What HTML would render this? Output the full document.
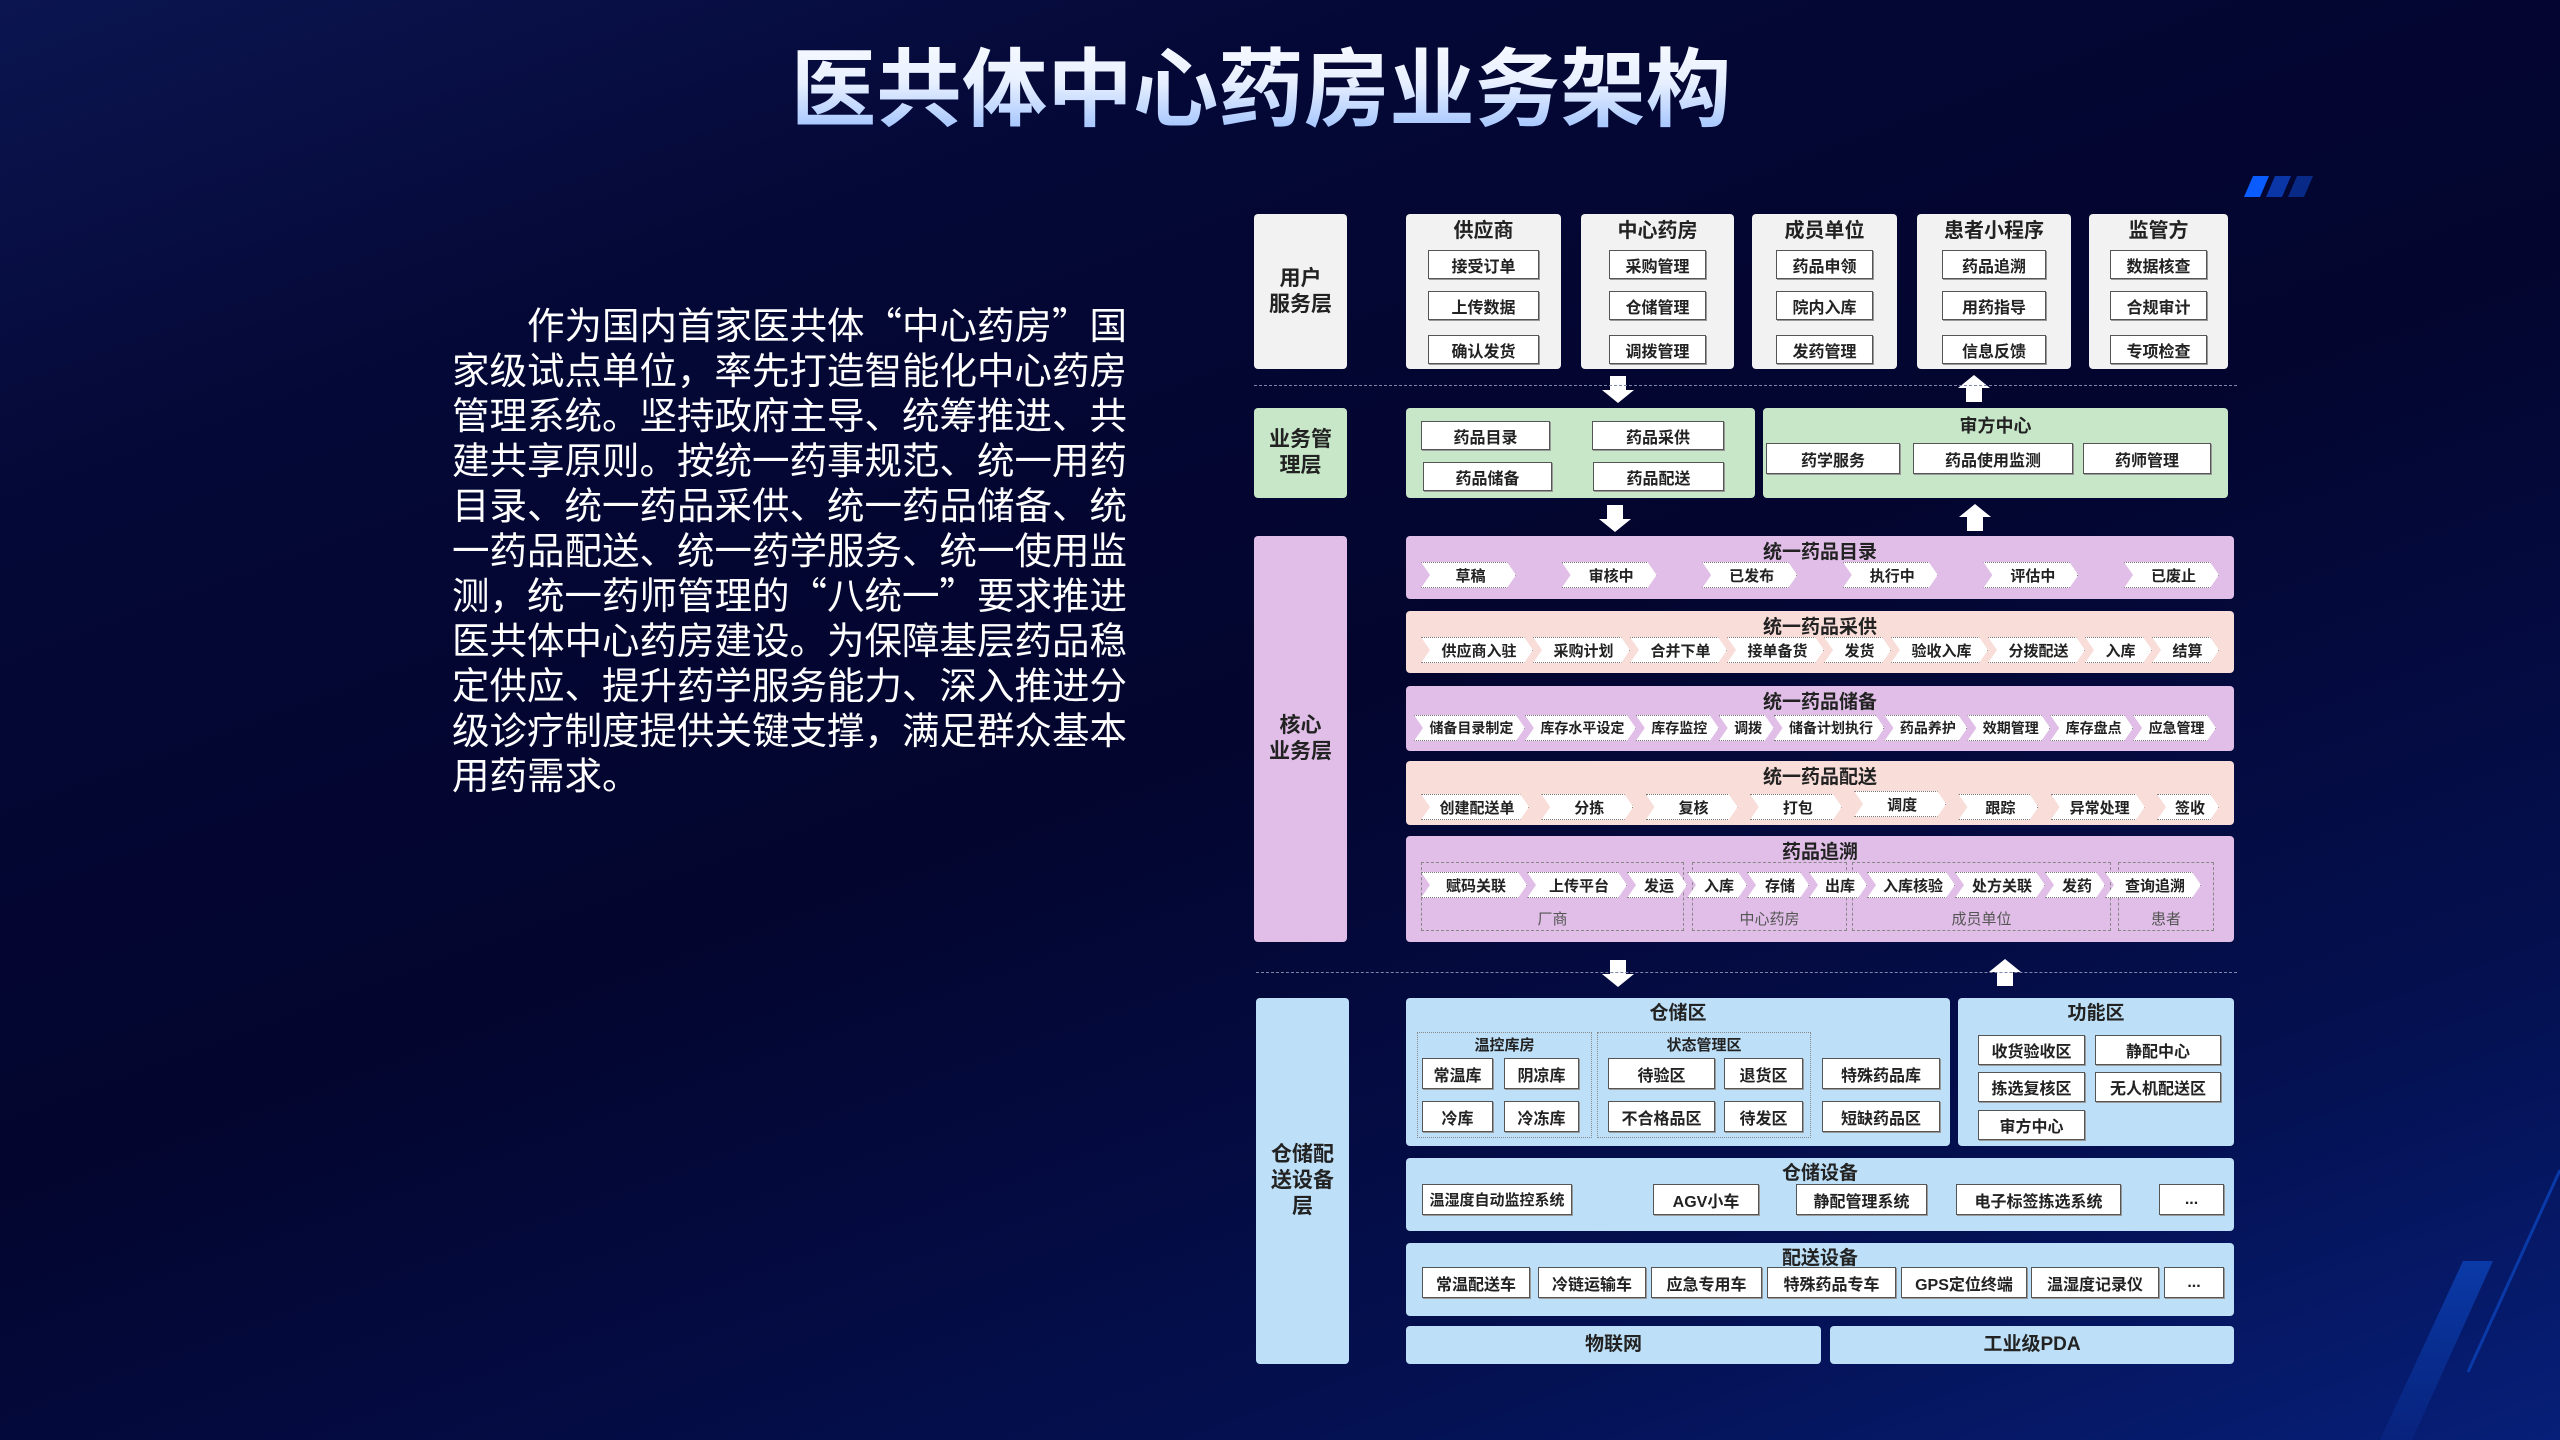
<!DOCTYPE html>
<html><head><meta charset="utf-8">
<style>
*{margin:0;padding:0;box-sizing:border-box}
body{width:2560px;height:1440px;overflow:hidden;position:relative;font-family:"Liberation Sans","Noto Sans CJK SC",sans-serif;
background:linear-gradient(160deg,#0b1550 0%,#040836 22%,#03052e 50%,#041050 80%,#071f78 100%);}
.a{position:absolute}
.t{position:absolute;left:0;width:2522px;top:20px;text-align:center;font-size:85.5px;font-weight:bold;letter-spacing:0;white-space:nowrap;
background:linear-gradient(180deg,#ffffff 0%,#e8f0ff 50%,#8fb8ff 100%);-webkit-background-clip:text;background-clip:text;color:transparent;font-family:"Noto Sans CJK SC",sans-serif}
.p{position:absolute;left:452px;top:300px;width:720px;font-size:37.5px;line-height:45px;color:#fff;font-family:"Noto Sans CJK SC",sans-serif;white-space:nowrap}
.bx{position:absolute;border-radius:4px}
.lab{display:flex;align-items:center;justify-content:center;text-align:center;font-weight:bold;font-size:21px;color:#222;line-height:26px}
.w{position:absolute;background:#fff;border:1.5px solid #555;box-shadow:1px 1px 0 #999;display:flex;align-items:center;justify-content:center;font-size:16px;font-weight:bold;color:#222;white-space:nowrap;overflow:hidden}
.ttl{position:absolute;left:0;right:0;text-align:center;font-weight:bold;font-size:20px;color:#222}
.gr{background:#f2f2f2}.gn{background:#c8e7c9}.pu{background:#e0bee7}.pk{background:#f9ddd9}.bl{background:#bddff7}
.row{position:absolute;display:flex}
.c{height:26px;background:#fff;display:flex;align-items:center;justify-content:center;font-size:15px;font-weight:bold;color:#222;white-space:nowrap;overflow:hidden;min-width:0;
clip-path:polygon(0 0,calc(100% - 9px) 0,100% 50%,calc(100% - 9px) 100%,0 100%,9px 50%);padding:0 8px 0 12px;flex:1 1 auto;border:1px dotted #777}
.dash{position:absolute;height:0;border-top:1.5px dashed #7c86a8}
.grp{position:absolute;border:1.5px dashed #888}
.gl{position:absolute;font-size:15px;color:#555;text-align:center}
</style></head><body>

<div class="t">医共体中心药房业务架构</div>
<div class="p"><span style="padding-left:75px"></span>作为国内首家医共体“中心药房”国<br>家级试点单位，率先打造智能化中心药房<br>管理系统。坚持政府主导、统筹推进、共<br>建共享原则。按统一药事规范、统一用药<br>目录、统一药品采供、统一药品储备、统<br>一药品配送、统一药学服务、统一使用监<br>测，统一药师管理的“八统一”要求推进<br>医共体中心药房建设。为保障基层药品稳<br>定供应、提升药学服务能力、深入推进分<br>级诊疗制度提供关键支撑，满足群众基本<br>用药需求。</div>

<svg class="a" style="left:0;top:0" width="2560" height="1440">
<polygon points="2253,176 2269,176 2260,197 2244,197" fill="#0a5cff"/>
<polygon points="2275,176 2291,176 2282,197 2266,197" fill="#0a36a8"/>
<polygon points="2297,176 2313,176 2304,197 2288,197" fill="#082a86"/>
<defs><linearGradient id="sg" x1="0" y1="0" x2="0" y2="1"><stop offset="0" stop-color="#0a3aa8"/><stop offset="1" stop-color="#0a3aa8" stop-opacity="0.2"/></linearGradient></defs>
<polygon points="2463,1261 2493,1261 2412,1440 2380,1440" fill="url(#sg)"/>
<line x1="2560" y1="1170" x2="2468" y2="1372" stroke="#0a3aa8" stroke-width="3"/>
<g fill="#fff">
<polygon points="1610,376 1626,376 1626,390 1634,390 1618,403 1602,390 1610,390"/>
<polygon points="1966,402 1982,402 1982,388 1990,388 1974,375 1958,388 1966,388"/>
<polygon points="1607,505 1623,505 1623,519 1631,519 1615,532 1599,519 1607,519"/>
<polygon points="1967,531 1983,531 1983,517 1991,517 1975,504 1959,517 1967,517"/>
<polygon points="1610,960 1626,960 1626,974 1634,974 1618,987 1602,974 1610,974"/>
<polygon points="1997,986 2013,986 2013,972 2021,972 2005,959 1989,972 1997,972"/>
</g>
</svg>

<div class="dash" style="left:1254px;top:385px;width:983px"></div>
<div class="dash" style="left:1256px;top:972px;width:981px"></div>

<div class="bx gr lab" style="left:1254px;top:214px;width:93px;height:155px">用户<br>服务层</div>
<div class="bx gr" style="left:1406px;top:214px;width:155px;height:155px"><div class="ttl" style="top:0">供应商</div>
<div class="w" style="left:22px;top:36px;width:111px;height:29px">接受订单</div><div class="w" style="left:22px;top:77px;width:111px;height:29px">上传数据</div><div class="w" style="left:22px;top:121px;width:111px;height:29px">确认发货</div></div>
<div class="bx gr" style="left:1581px;top:214px;width:153px;height:155px"><div class="ttl" style="top:0">中心药房</div>
<div class="w" style="left:28px;top:36px;width:97px;height:29px">采购管理</div><div class="w" style="left:28px;top:77px;width:97px;height:29px">仓储管理</div><div class="w" style="left:28px;top:121px;width:97px;height:29px">调拨管理</div></div>
<div class="bx gr" style="left:1752px;top:214px;width:145px;height:155px"><div class="ttl" style="top:0">成员单位</div>
<div class="w" style="left:24px;top:36px;width:97px;height:29px">药品申领</div><div class="w" style="left:24px;top:77px;width:97px;height:29px">院内入库</div><div class="w" style="left:24px;top:121px;width:97px;height:29px">发药管理</div></div>
<div class="bx gr" style="left:1917px;top:214px;width:154px;height:155px"><div class="ttl" style="top:0">患者小程序</div>
<div class="w" style="left:25px;top:36px;width:104px;height:29px">药品追溯</div><div class="w" style="left:25px;top:77px;width:104px;height:29px">用药指导</div><div class="w" style="left:25px;top:121px;width:104px;height:29px">信息反馈</div></div>
<div class="bx gr" style="left:2089px;top:214px;width:139px;height:155px"><div class="ttl" style="top:0">监管方</div>
<div class="w" style="left:21px;top:36px;width:97px;height:29px">数据核查</div><div class="w" style="left:21px;top:77px;width:97px;height:29px">合规审计</div><div class="w" style="left:21px;top:121px;width:97px;height:29px">专项检查</div></div>

<div class="bx gn lab" style="left:1254px;top:408px;width:93px;height:90px">业务管<br>理层</div>
<div class="bx gn" style="left:1406px;top:408px;width:349px;height:90px">
<div class="w" style="left:15px;top:13px;width:129px;height:29px">药品目录</div><div class="w" style="left:17px;top:54px;width:129px;height:29px">药品储备</div>
<div class="w" style="left:186px;top:13px;width:132px;height:29px">药品采供</div><div class="w" style="left:187px;top:54px;width:131px;height:29px">药品配送</div></div>
<div class="bx gn" style="left:1763px;top:408px;width:465px;height:90px"><div class="ttl" style="top:4px;font-size:18px">审方中心</div>
<div class="w" style="left:3px;top:35px;width:134px;height:31px">药学服务</div><div class="w" style="left:150px;top:35px;width:160px;height:31px">药品使用监测</div><div class="w" style="left:320px;top:35px;width:128px;height:31px">药师管理</div></div>

<div class="bx pu lab" style="left:1254px;top:536px;width:93px;height:406px">核心<br>业务层</div>
<div class="bx pu" style="left:1406px;top:536px;width:828px;height:63px"><div class="ttl" style="top:1px;font-size:19px">统一药品目录</div>
<div class="row" style="left:15px;right:15px;top:26px;justify-content:space-between"><div class="c" style="flex:0 0 95px">草稿</div><div class="c" style="flex:0 0 95px">审核中</div><div class="c" style="flex:0 0 95px">已发布</div><div class="c" style="flex:0 0 95px">执行中</div><div class="c" style="flex:0 0 95px">评估中</div><div class="c" style="flex:0 0 95px">已废止</div></div></div>
<div class="bx pk" style="left:1406px;top:611px;width:828px;height:62px"><div class="ttl" style="top:1px;font-size:19px">统一药品采供</div>
<div class="row" style="left:15px;right:15px;top:26px;gap:0"><div class="c">供应商入驻</div><div class="c">采购计划</div><div class="c">合并下单</div><div class="c">接单备货</div><div class="c">发货</div><div class="c">验收入库</div><div class="c">分拨配送</div><div class="c">入库</div><div class="c">结算</div></div></div>
<div class="bx pu" style="left:1406px;top:686px;width:828px;height:65px"><div class="ttl" style="top:1px;font-size:19px">统一药品储备</div>
<div class="row" style="left:8px;right:18px;top:29px"><div class="c" style="font-size:14px">储备目录制定</div><div class="c" style="font-size:14px">库存水平设定</div><div class="c" style="font-size:14px">库存监控</div><div class="c" style="font-size:14px">调拨</div><div class="c" style="font-size:14px">储备计划执行</div><div class="c" style="font-size:14px">药品养护</div><div class="c" style="font-size:14px">效期管理</div><div class="c" style="font-size:14px">库存盘点</div><div class="c" style="font-size:14px">应急管理</div></div></div>
<div class="bx pk" style="left:1406px;top:761px;width:828px;height:64px"><div class="ttl" style="top:1px;font-size:19px">统一药品配送</div>
<div class="row" style="left:15px;right:15px;top:33px;justify-content:space-between"><div class="c" style="flex:0 0 108px">创建配送单</div><div class="c" style="flex:0 0 92px">分拣</div><div class="c" style="flex:0 0 92px">复核</div><div class="c" style="flex:0 0 92px">打包</div><div class="c" style="flex:0 0 92px;margin-top:-3px">调度</div><div class="c" style="flex:0 0 80px">跟踪</div><div class="c" style="flex:0 0 94px">异常处理</div><div class="c" style="flex:0 0 62px">签收</div></div></div>
<div class="bx pu" style="left:1406px;top:836px;width:828px;height:106px"><div class="ttl" style="top:1px;font-size:19px">药品追溯</div>
<div class="grp" style="left:15px;top:26px;width:263px;height:69px"></div><div class="gl" style="left:15px;width:263px;top:72px">厂商</div>
<div class="grp" style="left:286px;top:26px;width:155px;height:69px"></div><div class="gl" style="left:286px;width:155px;top:72px">中心药房</div>
<div class="grp" style="left:446px;top:26px;width:259px;height:69px"></div><div class="gl" style="left:446px;width:259px;top:72px">成员单位</div>
<div class="grp" style="left:712px;top:26px;width:96px;height:69px"></div><div class="gl" style="left:712px;width:96px;top:72px">患者</div>
<div class="row" style="left:15px;width:795px;top:36px"><div class="c" style="flex:0 0 106px">赋码关联</div><div class="c" style="flex:0 0 100px">上传平台</div><div class="c" style="flex:0 0 60px">发运</div><div class="c" style="flex:0 0 60px">入库</div><div class="c" style="flex:0 0 62px">存储</div><div class="c" style="flex:0 0 58px">出库</div><div class="c" style="flex:0 0 88px">入库核验</div><div class="c" style="flex:0 0 90px">处方关联</div><div class="c" style="flex:0 0 60px">发药</div><div class="c" style="flex:0 0 96px">查询追溯</div></div></div>

<div class="bx bl lab" style="left:1256px;top:998px;width:93px;height:366px">仓储配<br>送设备<br>层</div>
<div class="bx bl" style="left:1406px;top:998px;width:544px;height:148px"><div class="ttl" style="top:0;font-size:19px">仓储区</div>
<div class="grp" style="left:11px;top:34px;width:175px;height:106px;border-style:dotted"></div><div class="gl" style="left:11px;width:175px;top:36px;color:#222;font-weight:bold">温控库房</div>
<div class="grp" style="left:191px;top:34px;width:214px;height:106px;border-style:dotted"></div><div class="gl" style="left:191px;width:214px;top:36px;color:#222;font-weight:bold">状态管理区</div>
<div class="w" style="left:16px;top:60px;width:71px;height:31px">常温库</div><div class="w" style="left:98px;top:60px;width:75px;height:31px">阴凉库</div>
<div class="w" style="left:16px;top:103px;width:71px;height:31px">冷库</div><div class="w" style="left:98px;top:103px;width:75px;height:31px">冷冻库</div>
<div class="w" style="left:202px;top:60px;width:107px;height:31px">待验区</div><div class="w" style="left:318px;top:60px;width:79px;height:31px">退货区</div>
<div class="w" style="left:202px;top:103px;width:107px;height:31px">不合格品区</div><div class="w" style="left:318px;top:103px;width:79px;height:31px">待发区</div>
<div class="w" style="left:416px;top:60px;width:118px;height:31px">特殊药品库</div><div class="w" style="left:416px;top:103px;width:118px;height:31px">短缺药品区</div></div>
<div class="bx bl" style="left:1958px;top:998px;width:276px;height:148px"><div class="ttl" style="top:0;font-size:19px">功能区</div>
<div class="w" style="left:20px;top:37px;width:107px;height:30px">收货验收区</div><div class="w" style="left:137px;top:37px;width:126px;height:30px">静配中心</div>
<div class="w" style="left:20px;top:74px;width:107px;height:30px">拣选复核区</div><div class="w" style="left:137px;top:74px;width:126px;height:30px">无人机配送区</div>
<div class="w" style="left:20px;top:112px;width:107px;height:30px">审方中心</div></div>
<div class="bx bl" style="left:1406px;top:1158px;width:828px;height:73px"><div class="ttl" style="top:0;font-size:19px">仓储设备</div>
<div class="w" style="left:16px;top:26px;width:150px;height:31px;font-size:15px">温湿度自动监控系统</div><div class="w" style="left:247px;top:26px;width:106px;height:31px">AGV小车</div><div class="w" style="left:390px;top:26px;width:131px;height:31px">静配管理系统</div><div class="w" style="left:550px;top:26px;width:165px;height:31px">电子标签拣选系统</div><div class="w" style="left:753px;top:26px;width:65px;height:31px">...</div></div>
<div class="bx bl" style="left:1406px;top:1243px;width:828px;height:73px"><div class="ttl" style="top:0;font-size:19px">配送设备</div>
<div class="w" style="left:16px;top:24px;width:108px;height:31px">常温配送车</div><div class="w" style="left:132px;top:24px;width:108px;height:31px">冷链运输车</div><div class="w" style="left:245px;top:24px;width:111px;height:31px">应急专用车</div><div class="w" style="left:361px;top:24px;width:129px;height:31px">特殊药品专车</div><div class="w" style="left:495px;top:24px;width:126px;height:31px">GPS定位终端</div><div class="w" style="left:625px;top:24px;width:128px;height:31px">温湿度记录仪</div><div class="w" style="left:758px;top:24px;width:60px;height:31px">...</div></div>
<div class="bx bl lab" style="left:1406px;top:1326px;width:415px;height:38px;font-size:19px">物联网</div>
<div class="bx bl lab" style="left:1830px;top:1326px;width:404px;height:38px;font-size:19px">工业级PDA</div>
</body></html>
